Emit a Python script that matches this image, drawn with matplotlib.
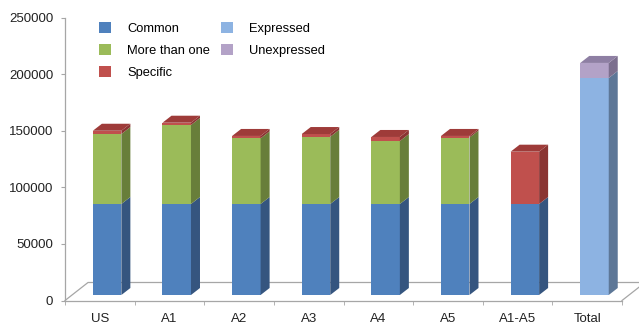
import matplotlib
matplotlib.use("Agg")
import matplotlib.pyplot as plt
from matplotlib.patches import Polygon
import numpy as np

plt.rcParams['font.family'] = ['Liberation Sans', 'DejaVu Sans']

categories = ["US", "A1", "A2", "A3", "A4", "A5", "A1-A5", "Total"]
common = [80400, 80400, 80400, 80400, 80400, 80400, 80400, 0]
more_than_one = [61800, 69800, 58000, 59400, 55600, 58700, 0, 0]
specific = [2900, 2000, 2100, 2400, 3600, 1400, 46200, 0]
expressed = [0, 0, 0, 0, 0, 0, 0, 191700]
unexpressed = [0, 0, 0, 0, 0, 0, 0, 13300]
yticks = [0, 50000, 100000, 150000, 200000, 250000]

series = [
    ("Common", common, "#4F81BD", "#35557F", "#3F6A9E"),
    ("More than one", more_than_one, "#9BBB59", "#687E3A", "#7F9A46"),
    ("Specific", specific, "#C0504D", "#8A3432", "#9E3B39"),
    ("Expressed", expressed, "#8DB3E2", "#5D7797", "#7896BC"),
    ("Unexpressed", unexpressed, "#B3A2C7", "#7C6F8E", "#8E7FA3"),
]

W, H = 639, 324
fig = plt.figure(figsize=(W / 100, H / 100), dpi=100)
ax_left, ax_right = 65 / W, 622 / W
ax_bot, ax_top = (H - 300.5) / H, (H - 17.5) / H
ax = fig.add_axes([ax_left, ax_bot, ax_right - ax_left, ax_top - ax_bot])
ax.set_xlim(-0.5, len(categories) - 0.5)
ax.set_ylim(0, 250000)

px_x = (len(categories)) / 557.0   # data units per pixel (x)
px_y = 250000 / 283.0              # data units per pixel (y)

# geometry (pixel-based styling)
bar_w = 28.5 * px_x
bar_shift = 7.3 * px_x
base = 5.5 * px_y
ddx, ddy = 9.0 * px_x, 7.0 * px_y
fdx, fdy = 23.0 * px_x, 18.0 * px_y

gray = "#A6A6A6"
n = len(categories)
# floor
ax.plot([-0.5, -0.5 + fdx, n - 0.5 + fdx], [0, fdy, fdy], color=gray, lw=0.9, clip_on=False, zorder=1)
ax.plot([n - 0.5, n - 0.5 + fdx], [0, fdy], color=gray, lw=0.9, clip_on=False, zorder=1)

x = np.arange(n)
bottoms = np.full(n, base)
handles = []
tops = [None] * n
for name, vals, front, side, top in series:
    vals = np.array(vals, dtype=float)
    h = ax.bar(x + bar_shift, vals, width=bar_w, bottom=bottoms, color=front,
               label=name, zorder=3, linewidth=0)
    handles.append(h)
    for i in range(n):
        if vals[i] <= 0:
            continue
        xr = x[i] + bar_shift + bar_w / 2
        y0, y1 = bottoms[i], bottoms[i] + vals[i]
        poly = Polygon([(xr, y0), (xr + ddx, y0 + ddy), (xr + ddx, y1 + ddy), (xr, y1)],
                       closed=True, facecolor=side, edgecolor='none', zorder=3, clip_on=False)
        ax.add_patch(poly)
        tops[i] = (y1, top)
    bottoms = bottoms + vals

for i in range(n):
    if tops[i] is None:
        continue
    y1, col = tops[i]
    xl = x[i] + bar_shift - bar_w / 2
    xr = xl + bar_w
    poly = Polygon([(xl, y1), (xr, y1), (xr + ddx, y1 + ddy), (xl + ddx, y1 + ddy)],
                   closed=True, facecolor=col, edgecolor='none', zorder=3, clip_on=False)
    ax.add_patch(poly)

for s in ["top", "right"]:
    ax.spines[s].set_visible(False)
for s in ["left", "bottom"]:
    ax.spines[s].set_color(gray)
    ax.spines[s].set_linewidth(0.9)

ax.set_yticks(yticks)
ax.set_yticklabels([str(v) for v in yticks], fontsize=9.5, color="#222222")
ax.tick_params(axis='y', length=3, color=gray, pad=5.5)
ax.set_xticks(x)
ax.set_xticklabels(categories, fontsize=9.5, color="#222222")
ax.set_xticks(np.arange(-0.5, n, 1.0), minor=True)
ax.tick_params(axis='x', which='major', length=0, pad=9)
ax.tick_params(axis='x', which='minor', length=3, color=gray)

leg = fig.legend(handles=handles, labels=[s[0] for s in series], ncol=2,
                 loc='upper left', bbox_to_anchor=(94 / W, 1 - 17 / H), frameon=False,
                 fontsize=9.3, handlelength=0.95, handleheight=0.95, handletextpad=1.2,
                 columnspacing=0.85, labelspacing=0.68, borderaxespad=0)

fig.savefig("out.png", dpi=100)
